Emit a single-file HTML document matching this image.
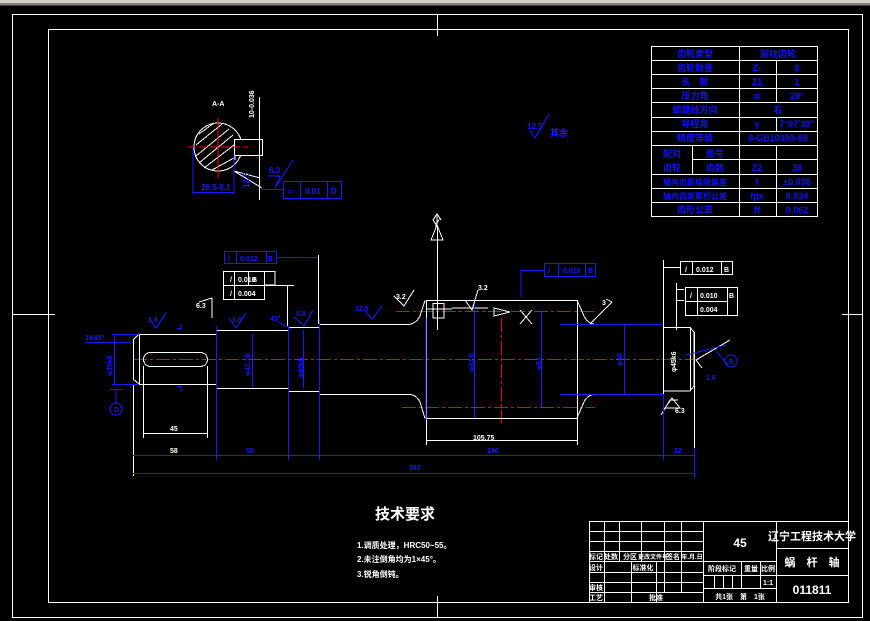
<!DOCTYPE html>
<html><head><meta charset="utf-8"><style>
html,body{margin:0;padding:0;background:#000;width:870px;height:621px;overflow:hidden}
svg{display:block}
text{font-family:"Liberation Sans","Noto Sans CJK SC",sans-serif}
</style></head><body>
<svg width="870" height="621" viewBox="0 0 870 621" xmlns="http://www.w3.org/2000/svg" shape-rendering="crispEdges">
<rect x="0" y="0" width="870" height="621" fill="#000"/>
<rect x="0" y="0" width="870" height="3" fill="#d4d0c8"/>
<rect x="0" y="3" width="870" height="2" fill="#808080"/>
<rect x="0" y="5" width="870" height="1" fill="#404040"/>
<g fill="none" stroke="#fff" stroke-width="1">
<rect x="12.5" y="14.5" width="850" height="603"/>
<rect x="48.5" y="29.5" width="800" height="573"/>
<line x1="437.5" y1="14" x2="437.5" y2="36"/>
<line x1="437.5" y1="596" x2="437.5" y2="617"/>
<line x1="12" y1="314.5" x2="55" y2="314.5"/>
<line x1="842" y1="314.5" x2="862" y2="314.5"/>
</g>
<!-- parameter table -->
<g stroke="#fff" stroke-width="1" fill="none">
<rect x="651.5" y="46.5" width="166" height="170"/>
<line x1="739.5" y1="46" x2="739.5" y2="217"/>
<line x1="776.5" y1="60" x2="776.5" y2="102"/>
<line x1="776.5" y1="117" x2="776.5" y2="131"/>
<line x1="776.5" y1="145" x2="776.5" y2="217"/>
<line x1="692.5" y1="145" x2="692.5" y2="174"/>
<path d="M651 60.5H818M651 74.5H818M651 88.5H818M651 102.5H818M651 117.5H818M651 131.5H818M651 145.5H818M692 159.5H818M651 174.5H818M651 188.5H818M651 202.5H818"/>
</g>
<g fill="#1010ff" font-size="9" font-weight="bold" text-anchor="middle">
<text x="695" y="57">齿轮类型</text><text x="778" y="57">圆柱齿轮</text>
<text x="695" y="71">齿轮数量</text><text x="757" y="71">Z₁</text><text x="797" y="71">8</text>
<text x="695" y="85">头　数</text><text x="757" y="85">Z1</text><text x="797" y="85">1</text>
<text x="695" y="99">压力角</text><text x="757" y="99">α</text><text x="797" y="99">20°</text>
<text x="695" y="113">螺旋线方向</text><text x="778" y="113">右</text>
<text x="695" y="127">导程角</text><text x="757" y="127">γ</text><text x="797" y="127">7°07'30"</text>
<text x="695" y="141">精度等级</text><text x="778" y="141">8-GB10089-88</text>
<text x="672" y="157">配对</text><text x="715" y="157">图号</text>
<text x="672" y="171">齿轮</text><text x="715" y="171">齿数</text><text x="757" y="171">Z2</text><text x="797" y="171">38</text>
<text x="695" y="185" font-size="8">轴向齿距极限偏差</text><text x="757" y="185">f</text><text x="797" y="185">±0.036</text>
<text x="695" y="199" font-size="8">轴向齿距累积公差</text><text x="757" y="199">fpx</text><text x="797" y="199">0.034</text>
<text x="695" y="213">齿形公差</text><text x="757" y="213">ff</text><text x="797" y="213">0.062</text>
</g>
<!-- title block -->
<g stroke="#fff" stroke-width="1" fill="none">
<path d="M589.5 521V603M589 521.5H848"/>
<path d="M589 531.5H703M589 541.5H703M589 551.5H703M589 561.5H776M589 572.5H703M589 582.5H703M589 592.5H703"/>
<path d="M604.5 521V603M619.5 521V562M641.5 521V562M664.5 521V562M681.5 521V562M703.5 521V603M776.5 521V603"/>
<path d="M631.5 562V603M656.5 562V603M664.5 562V592M681.5 562V592"/>
<path d="M703 575.5H776M703 588.5H776M741.5 561V588M760.5 561V588M714.5 575V588M723.5 575V588M732.5 575V588"/>
<path d="M776 548.5H848M776 575.5H848"/>
</g>
<g fill="#fff" font-size="7" font-weight="bold" text-anchor="middle">
<text x="740" y="547" font-size="12">45</text>
<text x="812" y="540" font-size="11">辽宁工程技术大学</text>
<text x="812" y="566" font-size="11">蜗　杆　轴</text>
<text x="812" y="594" font-size="12">011811</text>
<text x="722" y="571">阶段标记</text><text x="751" y="571">重量</text><text x="768" y="571">比例</text>
<text x="768" y="585">1:1</text>
<text x="740" y="599">共1张　第　1张</text>
<text x="596" y="559">标记</text><text x="611" y="559">处数</text><text x="630" y="559">分区</text><text x="653" y="559" font-size="6">更改文件号</text><text x="673" y="559">签名</text><text x="692" y="559" font-size="6">年.月.日</text>
<text x="596" y="570">设计</text><text x="643" y="570">标准化</text>
<text x="596" y="590">审核</text><text x="596" y="600">工艺</text><text x="656" y="600">批准</text>
</g>
<!-- tech requirements -->
<g fill="#fff" text-anchor="start" font-weight="bold">
<text x="375" y="519" font-size="15">技术要求</text>
<text x="357" y="548" font-size="8">1.调质处理，HRC50~55。</text>
<text x="357" y="562" font-size="8">2.未注倒角均为1×45°。</text>
<text x="357" y="577" font-size="8">3.锐角倒钝。</text>
</g>
<!-- section view A-A -->
<g stroke="#fff" fill="none">
<circle cx="218" cy="147" r="24"/>
<rect x="234.5" y="139.5" width="28" height="16" fill="#000"/>
<line x1="259.5" y1="97" x2="259.5" y2="200"/>
<path d="M199 134L214 123M196 145L222 124M196 156L229 129M199 163L233 135M204 168L234 145M212 170L234 158"/>
<path d="M235 155L235 160M234 171L260 178M234 171L262 188"/>
</g>
<g stroke="#f00"><line x1="188" y1="147" x2="248" y2="147" stroke-dasharray="8 3"/><line x1="218" y1="118" x2="218" y2="178"/></g>
<g stroke="#1a1aff" fill="none">
<path d="M193 147V195M234 155V195M193 192.5H234"/>
<path d="M268 176L280 176L275 188L293 160"/>
<rect x="283.5" y="181.5" width="58" height="17"/>
<path d="M300.5 181V199M327.5 181V199M262 189.5H284"/>
</g>
<g fill="#fff" font-size="7" font-weight="bold"><text x="212" y="106">A-A</text><text transform="translate(254 118) rotate(-90)">10-0.036</text></g>
<g fill="#1a1aff" font-size="8" font-weight="bold">
<text x="201" y="190">26.5-0.1</text><text transform="translate(249 188) rotate(-90)">12.5</text>
<text x="269" y="173">6.3</text><text x="288" y="194">═</text><text x="305" y="194">0.01</text><text x="331" y="194">D</text>
<text x="527" y="129">12.5</text><text x="550" y="136" font-size="9">其余</text>
</g>
<path d="M530 130L535 138L549 114" stroke="#1a1aff" fill="none"/>
<!-- main shaft centerlines -->
<g stroke="#f00" stroke-dasharray="14 3 3 3">
<line x1="133" y1="359.5" x2="700" y2="359.5"/>
<line x1="396" y1="311.5" x2="595" y2="311.5"/>
<line x1="402" y1="407.5" x2="595" y2="407.5"/>
<line x1="501.5" y1="318" x2="501.5" y2="423"/>
</g>
<!-- shaft outline -->
<g stroke="#fff" fill="none">
<path d="M139 334.5H216M133.5 340V379M133 340L139 334M133 379L139 384M139 384.5H216M139.5 334V384"/>
<rect x="143.5" y="352.5" width="64" height="14" rx="7"/>
<path d="M216.5 330V388M216 330.5H288M216 388.5H288M288.5 327V391M288 327.5H319M288 391.5H319"/>
<path d="M319.5 324V394M319 324.5H408Q416 324 420 316L425 300.5M319 394.5H408Q416 394 420 402L425 418.5"/>
<path d="M426 300.5H577M426 418.5H577M426.5 300V445M577.5 300V445"/>
<path d="M577 300L584 316Q588 324 596 324.5M577 418L584 402Q588 394 596 394.5"/>
<path d="M596 324.5H663M596 394.5H663M663.5 324V394"/>
<path d="M663 327.5H690L694 332V386L690 391H663M690.5 327V391M694.5 332V448"/>
<path d="M143.5 366V438M207.5 366V438M143 433.5H207M426 440.5H577"/>
<path d="M133.5 385V476M437.5 225V330M427 309H452M433 303.5H444V318H433Z"/>
<path d="M452 308H488"/>
<path d="M520 310L532 324M532 310L520 324"/>
<path d="M663.5 260V325M663 267.5H680M676.5 283V330M676 289.5H684M676 300.5H684"/>
<path d="M318.5 255V324M287.5 285V326M265 285.5H294"/>
<path d="M590 324L612 302M612 302L606 299"/>
<path d="M696 360L730 340M696 360L702 368"/>
<path d="M661 415L670 400L678 400"/>
</g>
<path d="M431 240L437 225L443 240Z" fill="none" stroke="#fff"/>
<path d="M494 308L510 312L494 316Z" fill="none" stroke="#fff"/>
<!-- blue dims & lines -->
<g stroke="#1a1aff" fill="none">
<path d="M216.5 326V460M288.5 326V460M319.5 318V460M133 455.5H694M133 473.5H694M663.5 394V460M694.5 448V478"/>
<path d="M112 334.5H139M112 384.5H139M114.5 334V384M85 342.5H130M110 389.5H123"/>
<circle cx="116" cy="409" r="6"/>
<path d="M116 389V403"/>
<path d="M252.5 334V388M303.5 330V388M426 318V420M474.5 300V418M541.5 311V407M624.5 324V394"/>
<path d="M560 324.5H663M560 394.5H663"/>
<rect x="224.5" y="251.5" width="52" height="12"/>
<path d="M236.5 251V264M266.5 251V264M277 257.5H318"/>
<rect x="544.5" y="263.5" width="51" height="13"/>
<path d="M558.5 263V277M585.5 263V277M521 270.5H545M521 270V297"/>
<path d="M686 355L726 345M717 352L728 365"/>
<circle cx="731" cy="361" r="6"/>
<path d="M149 318L156 328L166 313M229 318L236 328L246 313M365 311L372 319L382 306M278 322L291 329"/>
<path d="M294 317L304 326L313 310"/>
<path d="M177 328.5H181V324"/>
<path d="M177 386.5H181V392"/>
</g>
<!-- white FCFs -->
<g stroke="#fff" fill="none">
<rect x="223.5" y="271.5" width="41" height="28"/>
<path d="M223 285.5H265M234.5 271V300M248.5 271V285M248 271.5H275V285H265"/>
<rect x="680.5" y="261.5" width="52" height="13"/>
<path d="M692.5 261V275M721.5 261V275"/>
<rect x="685.5" y="287.5" width="52" height="28"/>
<path d="M685 301.5H727M697.5 287V316M727.5 287V316"/>
<path d="M199 302L212 298M212 298V318"/>
<path d="M394 296L404 306L414 290M465 300L472 310L478 290"/>
<path d="M437 224V216M433 220L437 214L441 220"/>
<path d="M672 398L665 408L680 408Z"/>
</g>
<g fill="#fff" font-size="7" font-weight="bold">
<text x="230" y="282">/</text><text x="238" y="282">0.010</text><text x="252" y="282">B</text>
<text x="230" y="296">/</text><text x="238" y="296">0.004</text>
<text x="685" y="272">/</text><text x="696" y="272">0.012</text><text x="724" y="272">B</text>
<text x="690" y="298">/</text><text x="700" y="298">0.010</text><text x="729" y="298">B</text>
<text x="700" y="312">0.004</text>
<text x="432" y="228" font-size="12" font-weight="normal">Y</text>
<text x="196" y="308" font-size="7">6.3</text>
<text x="473" y="440">105.75</text>
<text x="675" y="413">6.3</text>
<text transform="translate(676 372) rotate(-90)">φ45k6</text>
<text x="602" y="305">3</text>
<text x="396" y="299">3.2</text><text x="478" y="290">3.2</text>
<text x="170" y="431">45</text><text x="170" y="453">58</text>
</g>
<g fill="#1a1aff" font-size="7" font-weight="bold">
<text x="228" y="261">/</text><text x="240" y="261">0.012</text><text x="268" y="261">B</text>
<text x="548" y="273">/</text><text x="563" y="273">0.010</text><text x="588" y="273">B</text>
<text x="148" y="322">1.6</text><text x="232" y="322">1.6</text><text x="355" y="311">12.5</text><text x="296" y="316">0.8</text>
<text x="85" y="340">1X45°</text>
<text transform="translate(112 376) rotate(-90)">φ35k6</text>
<text transform="translate(250 376) rotate(-90)">φ41.16</text>
<text transform="translate(303 378) rotate(-90)">φ45k6</text>
<text transform="translate(474 372) rotate(-90)">φ82.5</text>
<text transform="translate(541 370) rotate(-90)">φ61</text>
<text transform="translate(622 366) rotate(-90)">φ40</text>
<text x="246" y="453">50</text><text x="487" y="453">240</text><text x="674" y="453">22</text>
<text x="409" y="470">392</text><text x="270" y="321">45°</text>
<text x="706" y="380">1.6</text><text x="729" y="364">B</text><text x="114" y="412">D</text>
</g>
</svg>
</body></html>
